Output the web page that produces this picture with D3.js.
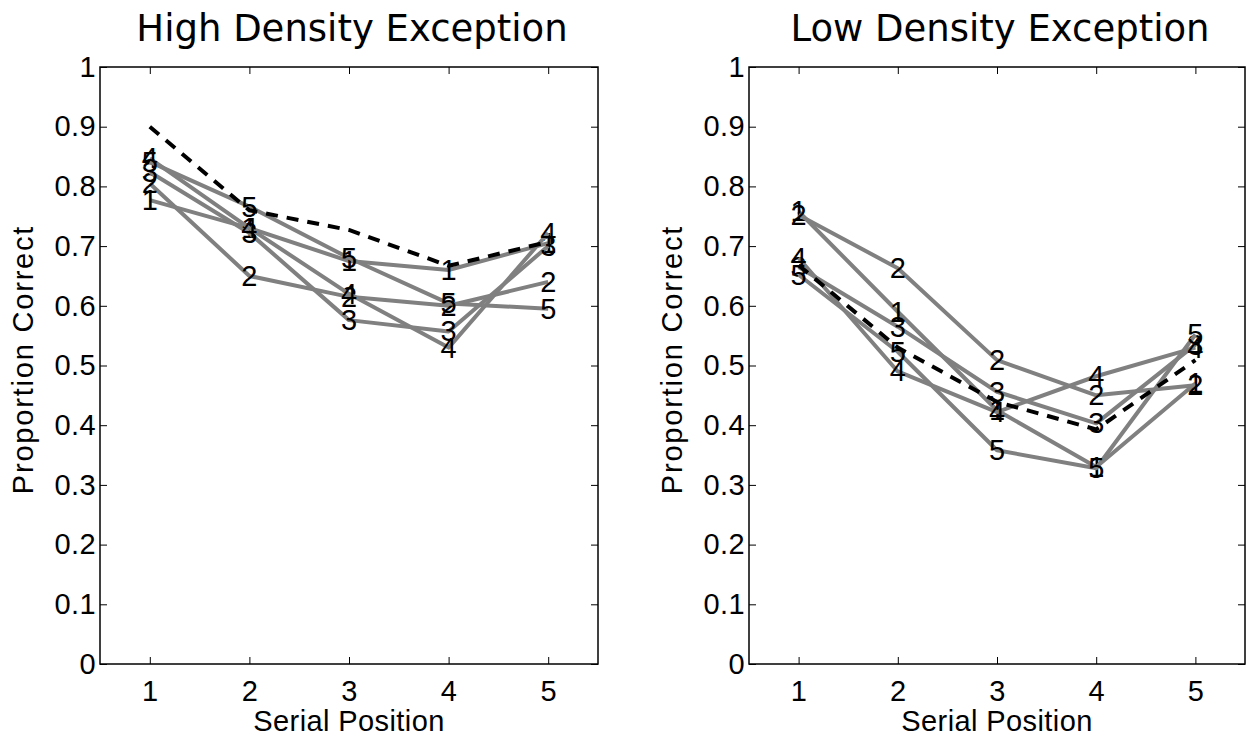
<!DOCTYPE html>
<html><head><meta charset="utf-8">
<script src="https://cdn.jsdelivr.net/npm/d3@7"></script>
<style>body{margin:0;background:#fff}</style>
</head><body><svg id="c" width="1247" height="740" xmlns="http://www.w3.org/2000/svg"></svg>
<script>
const positions = [1, 2, 3, 4, 5];
const yTickValues = [0, 0.1, 0.2, 0.3, 0.4, 0.5, 0.6, 0.7, 0.8, 0.9, 1];
const yTickLabels = ["0", "0.1", "0.2", "0.3", "0.4", "0.5", "0.6", "0.7", "0.8", "0.9", "1"];
const seriesLabels = ["1", "2", "3", "4", "5"];
const titles = ["High Density Exception", "Low Density Exception"];

const highS1 = [0.777, 0.730, 0.675, 0.660, 0.705];
const highS2 = [0.805, 0.650, 0.615, 0.600, 0.640];
const highS3 = [0.824, 0.722, 0.576, 0.557, 0.700];
const highS4 = [0.847, 0.730, 0.620, 0.530, 0.722];
const highS5 = [0.841, 0.766, 0.680, 0.604, 0.595];
const highMean = [0.900, 0.760, 0.727, 0.667, 0.707];

const lowS1 = [0.758, 0.590, 0.425, 0.330, 0.470];
const lowS2 = [0.752, 0.663, 0.509, 0.450, 0.467];
const lowS3 = [0.665, 0.565, 0.456, 0.403, 0.535];
const lowS4 = [0.680, 0.490, 0.422, 0.482, 0.530];
const lowS5 = [0.652, 0.523, 0.358, 0.328, 0.552];
const lowMean = [0.668, 0.530, 0.439, 0.393, 0.509];

const svg = d3.select("#c");
const plotTop = 67, plotBottom = 664;
const panels = [
  {title: titles[0], series: [highS1, highS2, highS3, highS4, highS5], mean: highMean, left: 100, right: 598},
  {title: titles[1], series: [lowS1, lowS2, lowS3, lowS4, lowS5], mean: lowMean, left: 749, right: 1245}
];
const FONT = "'Liberation Sans', Arial, Helvetica, sans-serif";
const fs = 29;
const ls = "0.4px";

panels.forEach(p => {
  const x = d3.scaleLinear().domain([0.5, 5.5]).range([p.left, p.right]);
  const y = d3.scaleLinear().domain([0, 1]).range([plotBottom, plotTop]);
  const g = svg.append("g");

  const tl = 7;
  const styleText = a => a.selectAll("text").attr("font-size", fs).attr("font-family", FONT).attr("fill", "#000").attr("letter-spacing", ls);
  g.append("g").attr("transform", `translate(0,${plotBottom})`)
    .call(d3.axisBottom(x).tickValues(positions).tickSize(-tl).tickPadding(16).tickFormat(d3.format("d")))
    .call(a => { a.select(".domain").remove(); styleText(a); a.selectAll("line").attr("stroke", "#000"); });
  g.append("g").attr("transform", `translate(0,${plotTop})`)
    .call(d3.axisTop(x).tickValues(positions).tickSize(-tl).tickFormat(""))
    .call(a => { a.select(".domain").remove(); a.selectAll("line").attr("stroke", "#000"); });
  g.append("g").attr("transform", `translate(${p.left},0)`)
    .call(d3.axisLeft(y).tickValues(yTickValues).tickSize(-tl).tickPadding(4).tickFormat((d, i) => yTickLabels[i]))
    .call(a => { a.select(".domain").remove(); styleText(a); a.selectAll("line").attr("stroke", "#000"); });
  g.append("g").attr("transform", `translate(${p.right},0)`)
    .call(d3.axisRight(y).tickValues(yTickValues).tickSize(-tl).tickFormat(""))
    .call(a => { a.select(".domain").remove(); a.selectAll("line").attr("stroke", "#000"); });
  g.append("rect").attr("x", p.left).attr("y", plotTop).attr("width", p.right - p.left).attr("height", plotBottom - plotTop)
    .attr("fill", "none").attr("stroke", "#000").attr("stroke-width", 1.5);

  const line = d3.line().x((d, i) => x(positions[i])).y(d => y(d));
  p.series.forEach((s, k) => {
    g.append("path").datum(s).attr("d", line).attr("fill", "none")
      .attr("stroke", "#808080").attr("stroke-width", 4).attr("stroke-linejoin", "round");
    g.selectAll(null).data(s).enter().append("text")
      .attr("x", (d, i) => x(positions[i])).attr("y", d => y(d))
      .attr("text-anchor", "middle").attr("dominant-baseline", "central")
      .attr("font-size", fs).attr("font-family", FONT).attr("fill", "#000")
      .text(seriesLabels[k]);
  });
  g.append("path").datum(p.mean).attr("d", line).attr("fill", "none")
    .attr("stroke", "#000").attr("stroke-width", 4).attr("stroke-dasharray", "12,9");

  svg.append("text").attr("x", (p.left + p.right) / 2 + 3).attr("y", 41).attr("text-anchor", "middle")
    .attr("font-size", 37).attr("font-family", "'DejaVu Sans', sans-serif").text(p.title);
  svg.append("text").attr("x", (p.left + p.right) / 2).attr("y", 731).attr("text-anchor", "middle")
    .attr("font-size", fs).attr("font-family", FONT).attr("letter-spacing", ls).text("Serial Position");
  svg.append("text").attr("transform", `translate(${p.left - 67},${(plotTop + plotBottom) / 2 - 6}) rotate(-90)`)
    .attr("text-anchor", "middle").attr("font-size", fs).attr("font-family", FONT).attr("letter-spacing", "1.8px").text("Proportion Correct");
});
</script></body></html>
